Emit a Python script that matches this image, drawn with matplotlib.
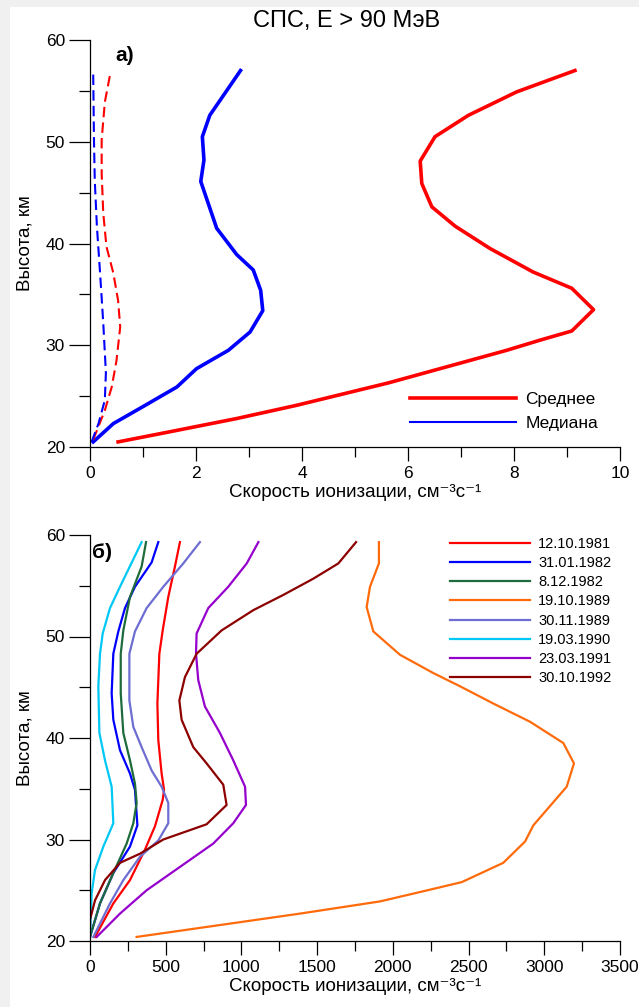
import matplotlib
matplotlib.use('Agg')
import matplotlib.pyplot as plt
from matplotlib.lines import Line2D
from matplotlib.ticker import MultipleLocator

plt.rcParams['font.family'] = ['Liberation Sans', 'DejaVu Sans']

# --- panel a) : mean / median, E > 90 MeV
mean_x = [0.53, 1.51, 2.77, 3.90, 5.63, 7.86, 8.49, 9.09, 9.50, 9.09, 8.36, 7.55,
          6.89, 6.45, 6.26, 6.23, 6.51, 7.14, 8.05, 9.15]
mean_y = [20.5, 21.5, 22.8, 24.1, 26.3, 29.5, 30.5, 31.4, 33.5, 35.6, 37.2, 39.5,
          41.7, 43.6, 45.9, 48.1, 50.5, 52.6, 54.9, 57.0]
median_x = [0.06, 0.44, 1.01, 1.64, 2.01, 2.61, 3.02, 3.26, 3.22, 3.08, 2.77, 2.39,
            2.09, 2.15, 2.12, 2.26, 2.84]
median_y = [20.5, 22.3, 24.0, 25.9, 27.7, 29.5, 31.3, 33.4, 35.4, 37.4, 38.9, 41.5,
            46.1, 48.2, 50.5, 52.6, 57.0]
mean_low_x = [0.06, 0.28, 0.41, 0.50, 0.57, 0.53, 0.44, 0.31, 0.25, 0.22, 0.22, 0.28, 0.39]
mean_low_y = [20.7, 23.6, 25.9, 28.5, 31.8, 34.4, 37.1, 39.7, 43.0, 46.9, 50.2, 53.9, 56.9]
median_low_x = [0.03, 0.16, 0.28, 0.30, 0.25, 0.19, 0.13, 0.09, 0.075, 0.06]
median_low_y = [20.5, 22.3, 24.6, 27.3, 32.2, 37.1, 41.7, 46.2, 50.2, 57.0]

# --- panel б) : individual events
events = ['12.10.1981', '31.01.1982', '8.12.1982', '19.10.1989',
          '30.11.1989', '19.03.1990', '23.03.1991', '30.10.1992']
colors = ['#ff0000', '#0000ff', '#1e6b3c', '#ff6a0a',
          '#6e6ed2', '#00c8f5', '#9600cd', '#8c0000']

ev_1981_x = [33, 154, 264, 363, 429, 480, 489, 473, 451, 445, 458, 480, 517, 561, 594]
ev_1981_y = [20.4, 23.7, 26.0, 29.0, 31.3, 33.9, 34.9, 36.5, 39.8, 43.4, 48.3, 50.6, 53.9, 56.9, 59.3]
ev_1982a_x = [0, 66, 154, 264, 313, 297, 264, 198, 154, 143, 154, 187, 231, 297, 407, 451]
ev_1982a_y = [20.4, 23.7, 26.7, 29.3, 31.4, 34.9, 36.5, 38.8, 41.8, 44.4, 48.3, 50.5, 52.8, 54.9, 57.3, 59.3]
ev_1982b_x = [0, 66, 154, 242, 286, 308, 297, 264, 220, 203, 203, 220, 264, 341, 370]
ev_1982b_y = [20.4, 23.7, 26.7, 29.6, 31.6, 33.6, 35.5, 37.8, 40.5, 44.4, 48.3, 50.6, 53.9, 56.9, 59.3]
ev_1989a_x = [308, 1387, 1915, 2201, 2455, 2729, 2873, 2928, 3148, 3196, 3126, 2906,
              2663, 2443, 2267, 2047, 1871, 1827, 1849, 1908, 1908]
ev_1989a_y = [20.4, 22.7, 23.9, 24.9, 25.8, 27.7, 29.8, 31.4, 35.2, 37.5, 39.5, 41.6,
              43.4, 45.1, 46.4, 48.2, 50.5, 52.9, 54.9, 57.2, 59.3]
ev_1989b_x = [22, 132, 220, 330, 451, 517, 517, 473, 407, 341, 286, 260, 260, 297, 374, 484, 616, 726]
ev_1989b_y = [20.4, 23.7, 26.0, 28.3, 29.9, 31.6, 33.6, 35.2, 36.8, 39.1, 41.1, 43.7, 48.3, 50.5,
              52.8, 54.9, 57.2, 59.3]
ev_1990_x = [0, 11, 33, 88, 154, 143, 99, 62, 55, 66, 84, 132, 198, 341]
ev_1990_y = [20.4, 24.7, 27.0, 29.3, 31.6, 35.2, 37.8, 40.5, 45.1, 48.3, 50.3, 52.8, 54.9, 59.3]
ev_1991_x = [44, 198, 374, 594, 814, 946, 1030, 1024, 946, 858, 759, 715, 700, 704, 781, 913, 1035, 1112]
ev_1991_y = [20.4, 22.7, 25.0, 27.3, 29.6, 31.6, 33.4, 35.2, 37.8, 40.5, 43.1, 45.7, 48.3, 50.3,
             52.8, 54.9, 57.2, 59.3]
ev_1992_x = [0, 0, 33, 99, 198, 330, 484, 770, 902, 880, 770, 682, 605, 590, 627, 704,
             869, 1079, 1277, 1475, 1640, 1757]
ev_1992_y = [20.4, 22.1, 24.0, 26.0, 27.7, 28.6, 30.0, 31.5, 33.4, 35.4, 37.5, 39.1, 41.8,
             43.7, 46.0, 48.3, 50.6, 52.6, 54.1, 55.7, 57.2, 59.3]

series_x = [ev_1981_x, ev_1982a_x, ev_1982b_x, ev_1989a_x, ev_1989b_x, ev_1990_x, ev_1991_x, ev_1992_x]
series_y = [ev_1981_y, ev_1982a_y, ev_1982b_y, ev_1989a_y, ev_1989b_y, ev_1990_y, ev_1991_y, ev_1992_y]

W, H = 639, 1007
fig = plt.figure(figsize=(W / 100, H / 100), dpi=100, facecolor='#f0f0f0')
fig.patches.append(plt.Rectangle((10 / W, 0), 1, 1 - 7 / H, transform=fig.transFigure,
                                 facecolor='white', edgecolor='none', zorder=-10))

ax1 = fig.add_axes([90 / W, 1 - 447 / H, 530 / W, 407 / H])
ax2 = fig.add_axes([90 / W, 1 - 941 / H, 530 / W, 406 / H])


def style_axis(ax, xmax, xmajor, xminor):
    ax.set_facecolor('none')
    ax.set_xlim(0, xmax)
    ax.set_ylim(20, 60)
    for s in ['top', 'right']:
        ax.spines[s].set_visible(False)
    for s in ['left', 'bottom']:
        ax.spines[s].set_linewidth(0.9)
    ax.xaxis.set_major_locator(MultipleLocator(xmajor))
    ax.xaxis.set_minor_locator(MultipleLocator(xminor))
    ax.yaxis.set_major_locator(MultipleLocator(10))
    ax.yaxis.set_minor_locator(MultipleLocator(5))
    ax.tick_params(axis='x', which='major', length=10, width=0.9, pad=4, labelsize=12.5)
    ax.tick_params(axis='x', which='minor', length=7, width=0.9)
    ax.tick_params(axis='y', which='major', length=15, width=0.9, pad=3, labelsize=12.5)
    ax.tick_params(axis='y', which='minor', length=8, width=0.9)
    ax.set_xlabel('Скорость ионизации, см⁻³с⁻¹', fontsize=13.5, labelpad=2)
    ax.set_ylabel('Высота, км', fontsize=13.5, labelpad=9)


style_axis(ax1, 10, 2, 1)
style_axis(ax2, 3500, 500, 250)

# panel a
ax1.plot(mean_x, mean_y, color='red', lw=2.6, clip_on=False)
ax1.plot(median_x, median_y, color='blue', lw=2.6, clip_on=False)
ax1.plot(mean_low_x, mean_low_y, color='red', lw=1.5, dashes=(5, 2.5))
ax1.plot(median_low_x, median_low_y, color='blue', lw=1.5, dashes=(5, 2.5))
ax1.text(0.047, 0.963, 'а)', transform=ax1.transAxes, fontsize=15, fontweight='bold',
         va='center', ha='left')
handles = [Line2D([], [], color='red', lw=2.6), Line2D([], [], color='blue', lw=1.5)]
ax1.legend(handles, ['Среднее', 'Медиана'], loc='upper left', bbox_to_anchor=(0.604, 0.135),
           frameon=False, fontsize=12.5, handlelength=6.1, handletextpad=0.55,
           borderpad=0, borderaxespad=0, labelspacing=0.5)
fig.text(347 / W, 1 - 21 / H, 'СПС, Е > 90 МэВ', ha='center', va='center', fontsize=17)

# panel б
for xs, ys, c, lab in zip(series_x, series_y, colors, events):
    ax2.plot(xs, ys, color=c, lw=1.6, label=lab)
ax2.text(0.004, 0.958, 'б)', transform=ax2.transAxes, fontsize=15, fontweight='bold',
         va='center', ha='left')
ax2.legend(loc='upper left', bbox_to_anchor=(0.679, 0.996), frameon=False, fontsize=10.5,
           handlelength=5.5, handletextpad=0.55, borderpad=0, borderaxespad=0,
           labelspacing=0.36)

fig.savefig('out.png', dpi=100, facecolor=fig.get_facecolor())
